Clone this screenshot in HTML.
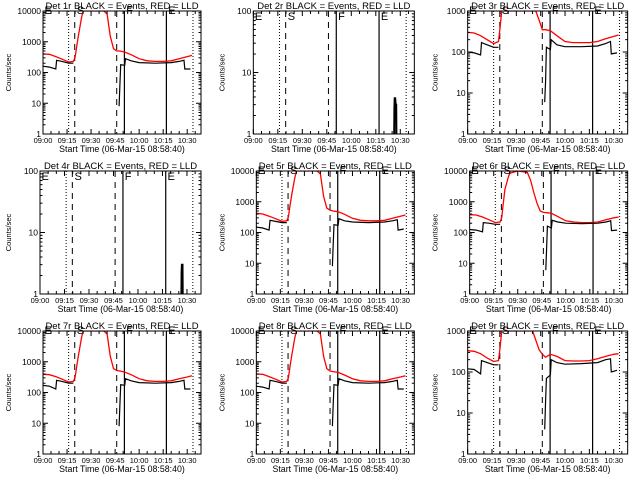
<!DOCTYPE html>
<html><head><meta charset="utf-8">
<style>
html,body{margin:0;padding:0;background:#fff;}
svg{display:block;font-family:"Liberation Sans",sans-serif;}
</style></head>
<body>
<svg id="chart" width="640" height="480" viewBox="0 0 640 480" xmlns="http://www.w3.org/2000/svg"></svg>
<script>
// time axis: minutes after 09:00
const xTickLabels = ["09:00","09:15","09:30","09:45","10:00","10:15","10:30"];
const xTickMinutes = [0,15,30,45,60,75,90];
const timeRange = [0, 98.6];
const markerTimes = {dotted:[16,93.6], dashed:[19.8,46], solid:[50.8,77]};
const markerLetters = ["E","S","F","E"];
const markerLetterTimes = [0.3,20.5,51.3,77.5];
const detNames = ["1r","2r","3r","4r","5r","6r","7r","8r","9r"];
const yTopDecade = [4,2,3,2,4,4,4,4,3];

const redT = [0,4,8,12,16,19,20,21,22,24,25,30,36,38,40,42,44,46,48,51,55,60,65,70,75,80,85,90,93];
const blackT = [0,4,8,8.5,12,16,19,47.5,48,48.5,51,51.5,55,60,70,80,85,88,88.5,92];

const red1 = [400,390,330,270,220,230,300,700,1500,6000,11000,15000,15000,12000,8000,1500,600,500,500,460,380,280,240,230,230,240,280,330,360];
const black1 = [160,150,130,250,230,200,200,8,40,180,170,280,240,210,200,210,230,250,130,130];
const red2 = redT.map(()=>null);
const black2T = [86.3,86.4,86.6,86.9,87.2,87.5,87.6];
const black2 = [1,2.7,3.8,3.8,3,3,1];
const red3 = [300,290,250,200,160,180,400,1000,2000,3000,3000,3000,3000,3000,3000,1200,600,350,350,330,250,180,170,170,170,180,210,240,260];
const black3 = [100,95,85,170,150,130,130,6,20,130,115,200,150,135,135,140,160,180,90,95];
const red4 = redT.map(()=>null);
const black4T = [86.6,86.7,86.9,87.1,87.3,87.4];
const black4 = [1,2.3,3,3,3,1];
const red5 = [420,400,340,280,230,240,320,750,1600,6000,11000,15000,15000,12000,8000,1500,620,530,500,470,390,290,250,240,240,250,290,340,370];
const black5 = [150,140,120,250,230,210,210,8,40,180,170,280,240,220,210,220,240,260,120,130];
const red6 = [380,370,320,260,210,220,300,900,2500,6000,8500,11000,9000,5000,2000,900,500,450,440,420,330,240,220,210,210,220,260,300,320];
const black6 = [125,120,105,210,200,185,185,6,30,160,140,250,220,200,195,200,220,240,115,120];
const red7 = [390,380,330,270,220,230,300,700,1500,6000,11000,15000,15000,12000,8000,1500,600,520,500,460,380,280,240,230,230,240,280,320,350];
const black7 = [170,160,130,250,230,200,200,8,40,180,170,280,240,210,200,210,230,250,130,130];
const red8 = [400,390,330,270,220,230,300,700,1500,6000,11000,15000,15000,12000,8000,1500,600,500,480,450,370,280,240,230,230,240,280,320,350];
const black8 = [160,150,130,250,230,200,200,8,40,180,170,280,240,210,200,210,230,250,130,130];
const red9 = [330,320,280,220,180,190,400,1500,3000,3000,3000,3000,3000,3000,1000,600,350,270,230,270,240,190,185,185,190,210,240,270,280];
const black9 = [120,115,90,190,170,150,150,4,20,70,85,200,170,155,160,170,200,210,100,110];

const redSeries = [red1,red2,red3,red4,red5,red6,red7,red8,red9];
const blackSeries = [black1,black2,black3,black4,black5,black6,black7,black8,black9];
const blackTimes = [blackT,black2T,blackT,black4T,blackT,blackT,blackT,blackT,blackT];

const svg = document.getElementById('chart');
const NS = "http://www.w3.org/2000/svg";
function mk(tag, attrs, parent){
  const e = document.createElementNS(NS, tag);
  for (const k in attrs) e.setAttribute(k, attrs[k]);
  (parent||svg).appendChild(e);
  return e;
}

for (let p=0;p<9;p++){
  const col=p%3, row=Math.floor(p/3);
  const ox = col*213.33, oy=row*160;
  const top=yTopDecade[p];
  const L = ox + (top===4?43:(top===3?41:40)), R = ox+201, T = oy+11, B = oy+134;
  const g = mk('g',{});
  
  
  const xs = m => L + (m-timeRange[0])/(timeRange[1]-timeRange[0])*(R-L);
  const ys = v => { const lv=Math.log10(Math.max(v,1)); return B - Math.min(lv,top)/top*(B-T); };
  const clipId='clip'+p;
  const cp = mk('clipPath',{id:clipId},g); mk('rect',{x:L,y:T,width:R-L,height:B-T},cp);

  const tt = mk('text',{x:(L+R)/2,y:oy+9,'text-anchor':'middle','font-size':'9.5'},g);
  tt.textContent='Det '+detNames[p]+' BLACK = Events, RED = LLD';
  
  

  const mg = mk('g',{},g);
  
  
  markerTimes.dotted.forEach(m=>mk('line',{x1:xs(m),x2:xs(m),y1:T,y2:B,stroke:'#000','stroke-width':1,'stroke-dasharray':'1,2'},mg));
  markerTimes.dashed.forEach(m=>mk('line',{x1:xs(m),x2:xs(m),y1:T,y2:B,stroke:'#000','stroke-width':1,'stroke-dasharray':'6,5'},mg));
  markerTimes.solid.forEach(m=>mk('line',{x1:xs(m),x2:xs(m),y1:T,y2:B,stroke:'#000','stroke-width':1.2},mg));
  markerLetters.forEach((l,i)=>{
    const t=mk('text',{x:xs(markerLetterTimes[i])+1,y:T+(top===2?9:3),'font-size':'11'},mg);
    t.textContent=l;
  });

  const redPts=[]; redSeries[p].forEach((v,i)=>{ if(v!==null) redPts.push(xs(redT[i]).toFixed(1)+','+ys(v).toFixed(1)); });
  if(redPts.length){
    const rl=mk('polyline',{points:redPts.join(' '),fill:'none',stroke:'#ff0000','stroke-width':1.3,'clip-path':'url(#'+clipId+')'},g);
    
    
  }
  const bt=blackTimes[p], bv=blackSeries[p];
  let segs=[[]];
  for(let i=0;i<bt.length;i++){
    if(i>0 && bt[i]-bt[i-1]>10) segs.push([]);
    segs[segs.length-1].push(xs(bt[i]).toFixed(1)+','+ys(bv[i]).toFixed(1));
  }
  segs.forEach(s=>{
    const bl=mk('polyline',{points:s.join(' '),fill:'none',stroke:'#000','stroke-width':(bt===blackT?1.2:2),'clip-path':'url(#'+clipId+')'},g);
    
    
  });

  const fr=mk('rect',{x:L,y:T,width:R-L,height:B-T,fill:'none',stroke:'#000','stroke-width':1},g);
  
  

  const yg=mk('g',{},g);
  
  
  for(let d=0;d<=top;d++){
    const y=ys(Math.pow(10,d));
    mk('line',{x1:L,x2:L+5,y1:y,y2:y,stroke:'#000'},yg);
    mk('line',{x1:R,x2:R-5,y1:y,y2:y,stroke:'#000'},yg);
    const lt=mk('text',{x:L-2,y:y+3,'text-anchor':'end','font-size':'8.5'},yg);
    lt.textContent=String(Math.pow(10,d));
    if(d<top) for(let k=2;k<10;k++){
      const yy=ys(k*Math.pow(10,d));
      mk('line',{x1:L,x2:L+2.5,y1:yy,y2:yy,stroke:'#000'},yg);
      mk('line',{x1:R,x2:R-2.5,y1:yy,y2:yy,stroke:'#000'},yg);
    }
  }
  const yl=mk('text',{x:0,y:0,'text-anchor':'middle','font-size':'7.5',transform:'translate('+(ox+11)+','+((T+B)/2)+') rotate(-90)'},g);
  yl.textContent='Counts/sec';
  
  

  const xg=mk('g',{},g);
  
  
  for(let m=0;m<=timeRange[1];m+=5){
    const x=xs(m), major=(m%15===0);
    const len=major?5:3;
    mk('line',{x1:x,x2:x,y1:B,y2:B-len,stroke:'#000'},xg);
    mk('line',{x1:x,x2:x,y1:T,y2:T+len,stroke:'#000'},xg);
  }
  xTickMinutes.forEach((m,i)=>{
    const t=mk('text',{x:xs(m),y:B+9,'text-anchor':'middle','font-size':'7.5'},xg);
    t.textContent=xTickLabels[i];
  });
  const xt=mk('text',{x:(L+R)/2,y:B+18,'text-anchor':'middle','font-size':'8.8'},g);
  xt.textContent='Start Time (06-Mar-15 08:58:40)';
  
  
}
</script>
</body></html>
